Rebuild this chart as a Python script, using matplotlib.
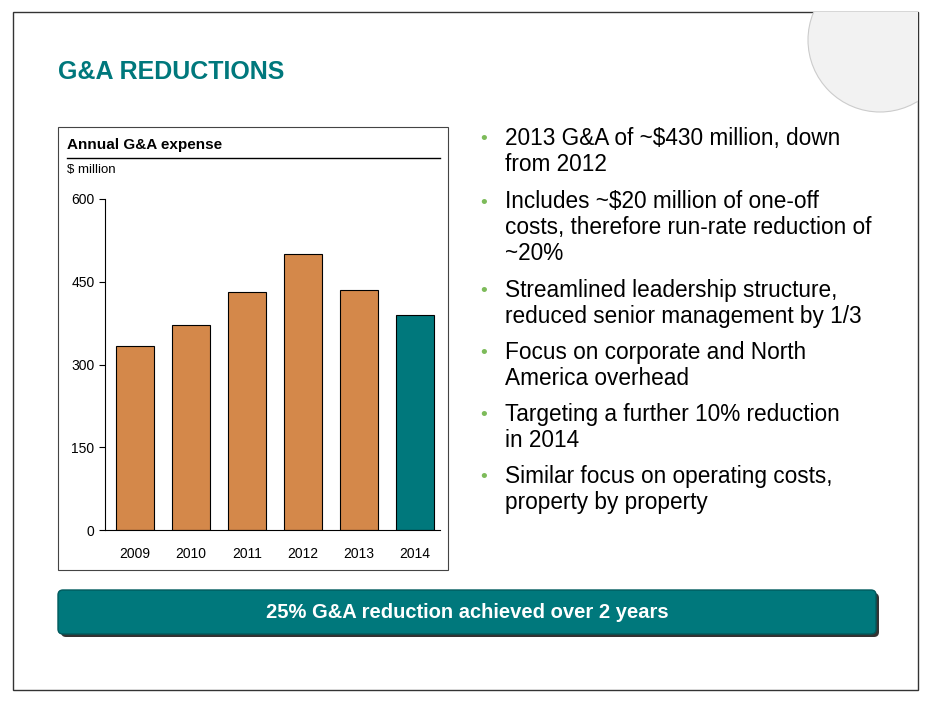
import matplotlib
matplotlib.use("Agg")
import matplotlib.pyplot as plt
from matplotlib.patches import Rectangle, FancyBboxPatch, Circle

years = ["2009", "2010", "2011", "2012", "2013", "2014"]
values = [333, 372, 431, 500, 435, 390]
bar_colors = ["#D4884A"] * 5 + ["#00787C"]
yticks = [0, 150, 300, 450, 600]
bullets = [
    "2013 G&A of ~$430 million, down\nfrom 2012",
    "Includes ~$20 million of one-off\ncosts, therefore run-rate reduction of\n~20%",
    "Streamlined leadership structure,\nreduced senior management by 1/3",
    "Focus on corporate and North\nAmerica overhead",
    "Targeting a further 10% reduction\nin 2014",
    "Similar focus on operating costs,\nproperty by property",
]
bullet_y = [140, 203, 292, 354, 416, 478]

plt.rcParams['font.family'] = ['Liberation Sans', 'DejaVu Sans']
W, H = 939, 703
fig = plt.figure(figsize=(W/100, H/100), dpi=100)
bg = fig.add_axes([0, 0, 1, 1])
bg.set_xlim(0, W); bg.set_ylim(H, 0); bg.axis('off')

frame = Rectangle((13, 12), 905, 678, fill=False, ec="#333333", lw=1)
bg.add_patch(frame)
# globe hint
g = Circle((880, 40), 72, fc="#f2f2f2", ec="#cccccc", lw=0.8)
bg.add_patch(g)
g.set_clip_path(Rectangle((13, 12), 905, 678, transform=bg.transData))
bg.text(58, 72, "G&A REDUCTIONS", color="#00787C", fontsize=18, fontweight='bold', va='center')

# chart box
bg.add_patch(Rectangle((58, 127), 390, 443, fill=False, ec="#444444", lw=0.8))
bg.text(67, 145, "Annual G&A expense", fontsize=11, fontweight='bold', va='center')
bg.plot([67, 440], [158, 158], color='black', lw=1)
bg.text(67, 170, "$ million", fontsize=9.5, va='center')

for t, y in zip(bullets, bullet_y):
    bg.text(480, y, "•", color="#7DBB5A", fontsize=14, va='center')
    bg.text(505, y - 13, t, fontsize=16.3, va='top', linespacing=1.17)

# banner
bg.add_patch(FancyBboxPatch((61, 593), 818, 44, boxstyle="round,pad=0,rounding_size=5", fc="#333333", ec="none"))
bg.add_patch(FancyBboxPatch((58, 590), 818, 44, boxstyle="round,pad=0,rounding_size=5", fc="#00787C", ec="#005a5d", lw=1))
bg.text(467, 612, "25% G&A reduction achieved over 2 years", color='white', fontsize=14.5, fontweight='bold', ha='center', va='center')

ax = fig.add_axes([105/W, 1 - 530/H, 335/W, 331/H])
ax.bar(range(len(years)), values, width=0.68, color=bar_colors, edgecolor='black', linewidth=0.8)
ax.set_xlim(-0.54, 5.45)
ax.set_ylim(0, 600)
ax.set_yticks(yticks)
ax.set_xticks(range(len(years)))
ax.set_xticklabels(years)
ax.tick_params(axis='both', labelsize=10, length=4)
ax.tick_params(axis='x', length=0, pad=12)
for s in ['top', 'right']:
    ax.spines[s].set_visible(False)
ax.patch.set_alpha(0)

fig.savefig("out.png", dpi=100)
